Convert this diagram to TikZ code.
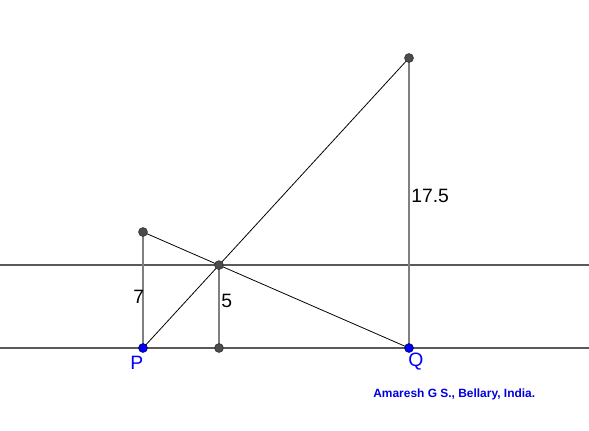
\documentclass[tikz,border=0pt]{standalone}
\usepackage{fontspec}
\setmainfont{Liberation Sans}
\usetikzlibrary{calc,intersections}
\definecolor{ptblue}{RGB}{0,0,255}
\definecolor{lblue}{RGB}{0,0,220}

\tikzset{
	pt/.style={circle,draw=black!80,fill=black!70,inner sep=0pt,minimum size=5pt,line width=0.4pt},
	bpt/.style={pt,fill=ptblue,draw=black!60!blue},
	hline/.style={draw=black!65,line width=0.6pt},
	vline/.style={draw=black!50,line width=1.1pt},
	dline/.style={draw=black,line width=0.45pt},
	num/.style={font=\fontsize{11}{13}\selectfont,anchor=base west,inner sep=0pt},
}

\begin{document}
\begin{tikzpicture}[x=0.02cm,y=-0.02cm]
	\useasboundingbox (0,0) rectangle (589,430);
	% the two parallels
	\coordinate (L1) at (0,265);
	\coordinate (R1) at (589,265);
	\coordinate (L2) at (0,348);
	\coordinate (R2) at (589,348);
	\draw[hline] (L1)--(R1);
	\draw[hline] (L2)--(R2);
	% points
	\coordinate (P) at (143,348);
	\coordinate (Q) at (409,348);
	\coordinate (A) at (143,232);
	\coordinate (B) at (409,58);
	\coordinate (X) at (219,265.1);
	\coordinate (F) at (219,348);
	\draw[vline] (P)--(A);
	\draw[vline] (X)--(F);
	\draw[vline] (Q)--(B);
	\draw[dline] (A)--(Q);
	\draw[dline] (P)--(B);
	\node[pt] (a) at (A) {};
	\node[pt] (b) at (B) {};
	\node[pt] (x) at (X) {};
	\node[pt] (f) at (F) {};
	\node[bpt] (p) at (P) {};
	\node[bpt] (q) at (Q) {};
	% labels
	\node[num] (l7) at (133,303) {7};
	\node[num] (l5) at (221,307) {5};
	\node[num] (l17) at (411,202) {17.5};
	\node[num,text=ptblue] (lp) at (130,369) {P};
	\node[num,text=ptblue] (lq) at (408,366) {Q};
	\node[text=lblue,font=\fontsize{6.8}{8}\selectfont\bfseries,anchor=base west,inner sep=0pt] (credit) at (373,397) {Amaresh G S., Bellary, India.};
\end{tikzpicture}
\end{document}
